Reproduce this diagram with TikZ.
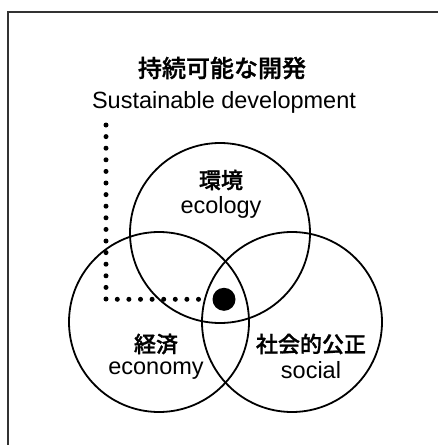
\documentclass[tikz,border=0pt]{standalone}
\usepackage{fontspec}
\setmainfont{Liberation Sans}
\newfontfamily\jpfont{Noto Sans CJK JP Medium}[FakeBold=1.2]
\begin{document}
\begin{tikzpicture}[x=1pt,y=-1pt,
  ring/.style={circle,draw=black,line width=1.8pt,minimum size=180pt,inner sep=0pt},
  jplabel/.style={font=\jpfont\fontsize{22}{24}\selectfont,inner sep=0pt},
  enlabel/.style={font=\fontsize{23.5}{26}\selectfont,inner sep=0pt},
  leader/.style={line width=5pt,line cap=round,dash pattern=on 0pt off 11.6pt}]
  \useasboundingbox (0,0) rectangle (438,445);
  % open frame: top and left edges
  \draw[line width=2pt,draw=black!80] (445,11.5) -- (7.5,11.5) -- (7.5,450);
  % titles
  \node[jplabel,font=\jpfont\fontsize{24}{26}\selectfont] (title) at (222,68) {持続可能な開発};
  \node[enlabel] (subtitle) at (224,102) {Sustainable development};
  % the three circles
  \node[ring] (eco) at (220,233) {};
  \node[ring] (econ) at (159,322) {};
  \node[ring] (soc) at (292,322) {};
  % circle labels
  \node[jplabel] (ecoj) at (221,180) {環境};
  \node[enlabel] (ecoe) at (221,207) {ecology};
  \node[jplabel] (econj) at (156,344) {経済};
  \node[enlabel] (econe) at (156,371) {economy};
  \node[jplabel] (socj) at (311,344) {社会的公正};
  \node[enlabel] (soce) at (311,370) {social};
  % centre marker and its dotted leader
  \node[circle,fill=black,minimum size=23pt,inner sep=0pt] (core) at (224,299.3) {};
  \coordinate (lead) at (106,125);
  \draw[leader,shorten >=9pt] (lead) |- (core.west);
\end{tikzpicture}
\end{document}
